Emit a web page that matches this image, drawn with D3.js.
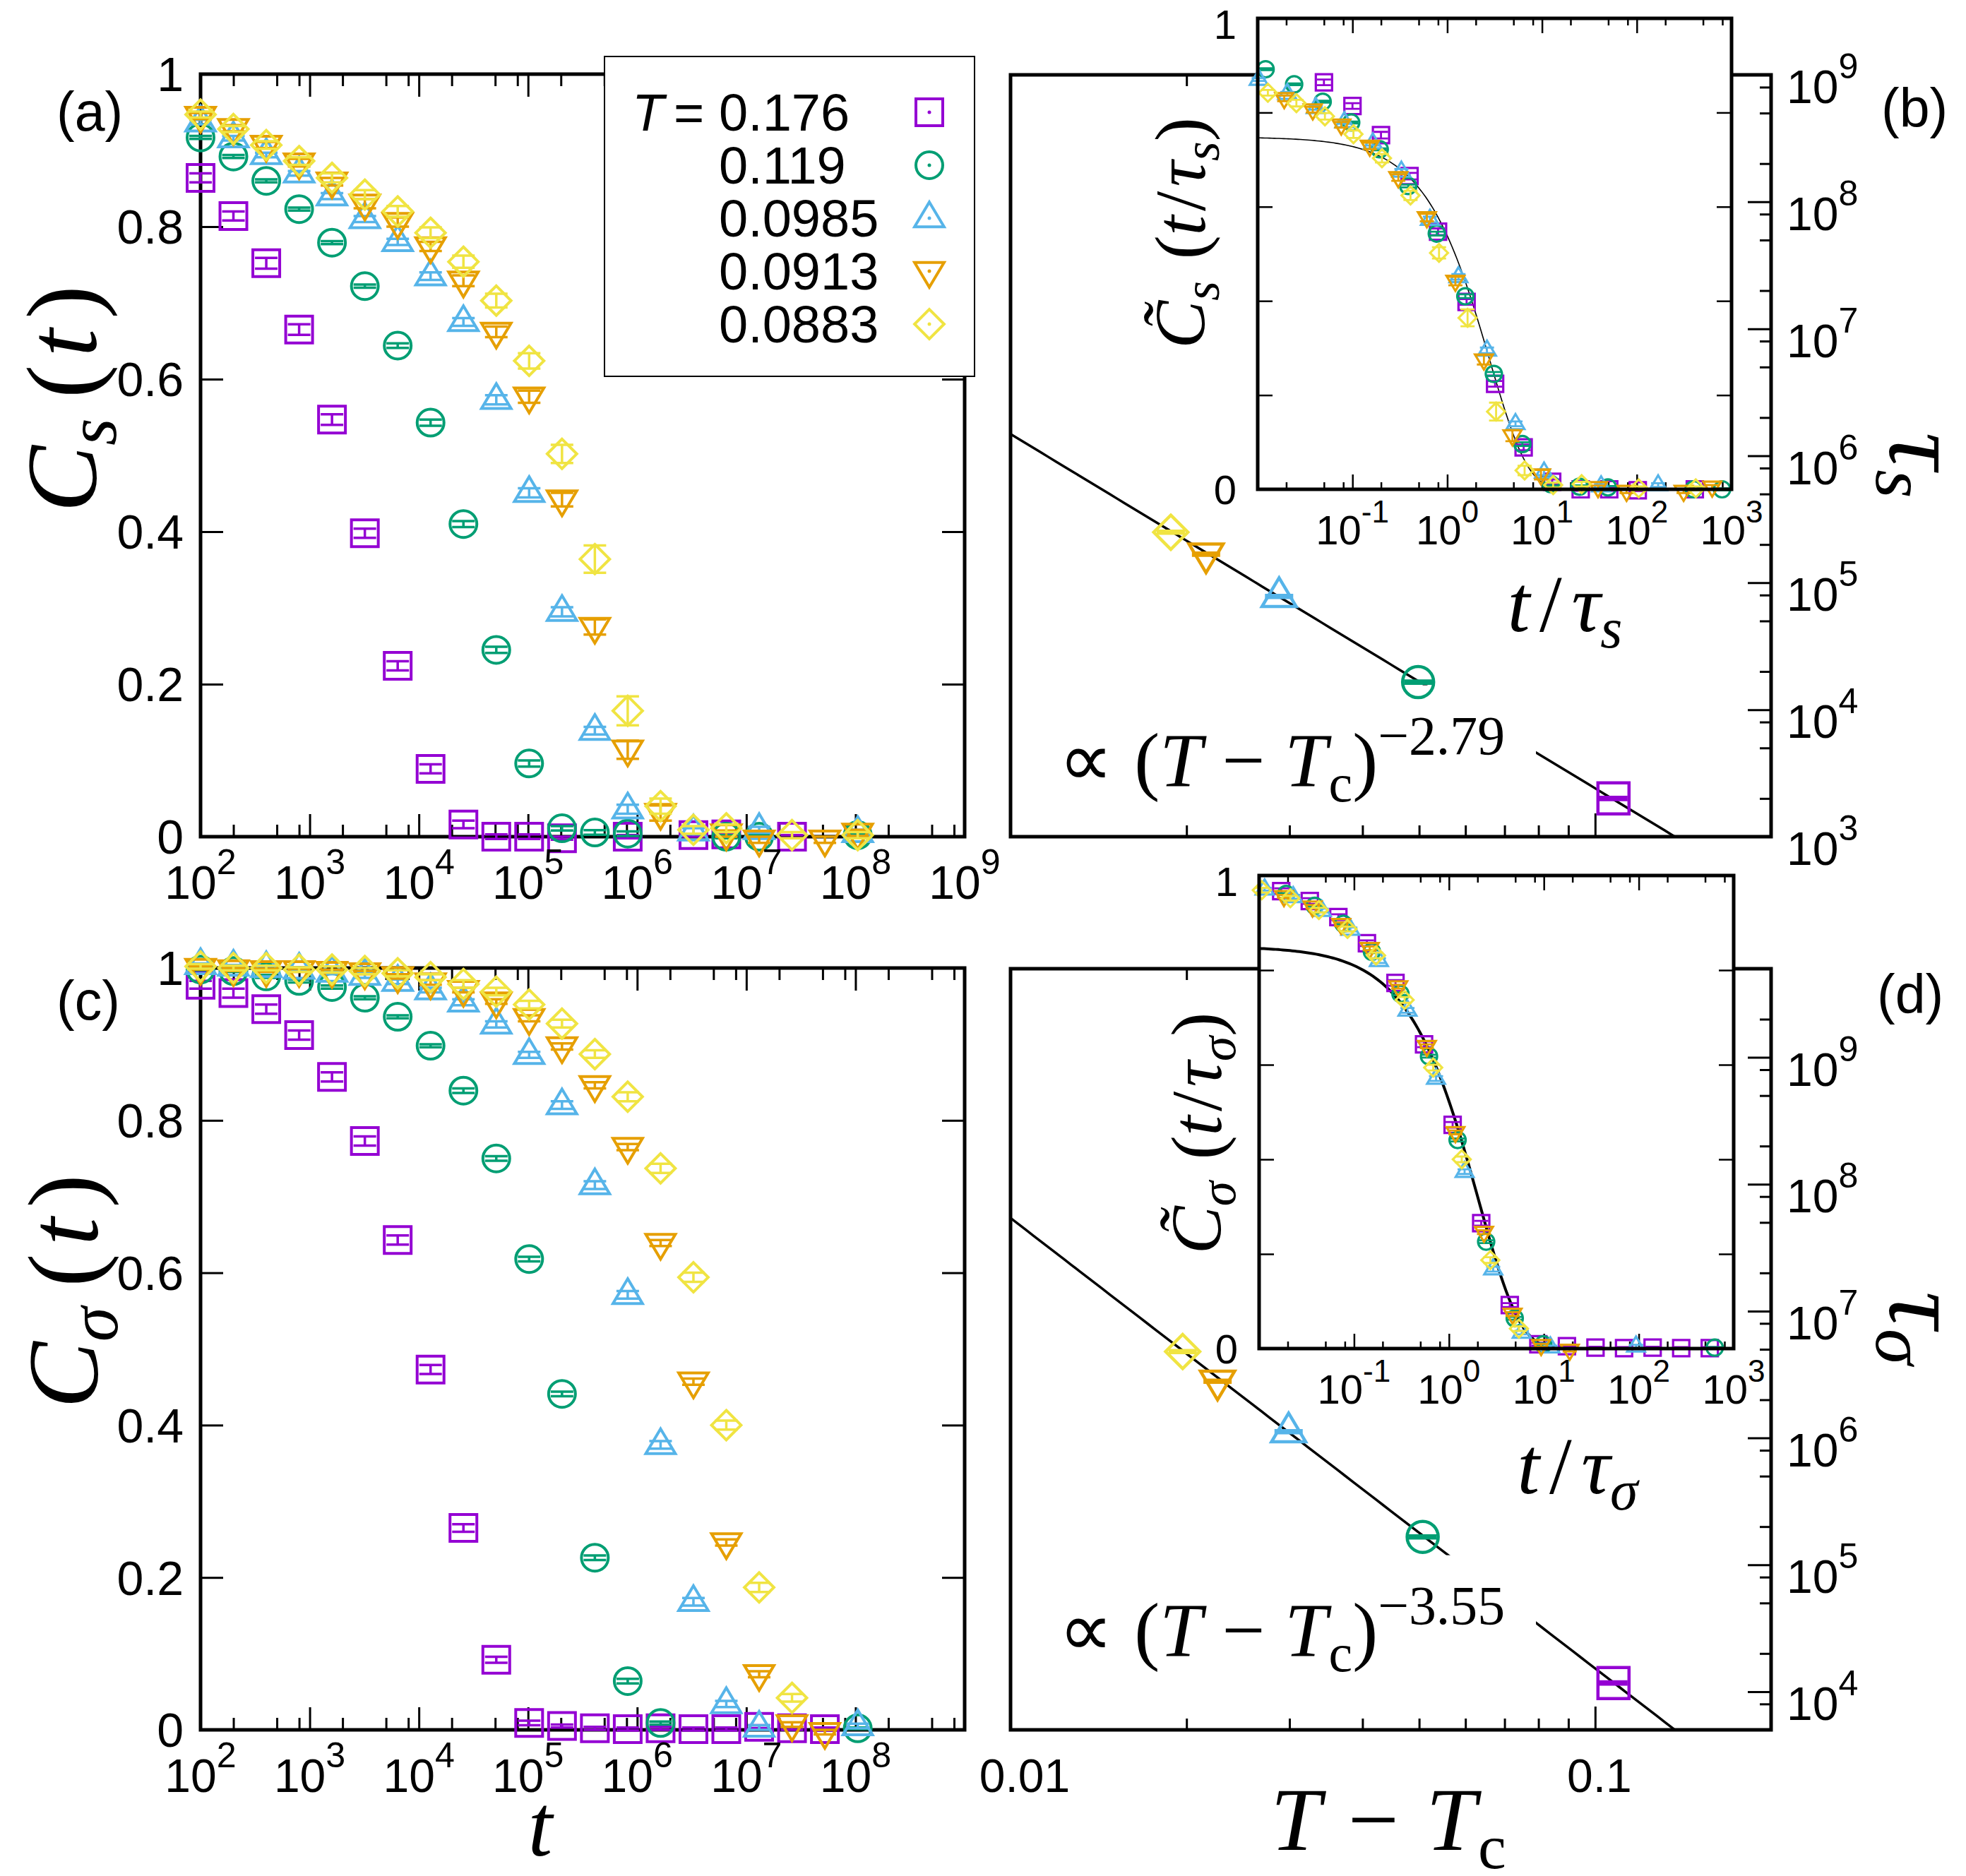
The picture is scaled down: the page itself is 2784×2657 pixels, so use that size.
<!DOCTYPE html>
<html>
<head>
<meta charset="utf-8">
<script src="https://cdn.jsdelivr.net/npm/d3@7"></script>
<style>
  body { margin: 0; background: #fff; }
  text { font-family: "Liberation Sans", Arial, sans-serif; fill: #000; }
  text.m { font-family: "Liberation Serif", "Times New Roman", serif; }
</style>
</head>
<body>
<svg id="fig" width="2784" height="2657"></svg>
<script>
// series order: T = 0.176, 0.119, 0.0985, 0.0913, 0.0883
const temps = ["0.176", "0.119", "0.0985", "0.0913", "0.0883"]
const colors = ["#9400d3", "#009e73", "#56b4e9", "#e69f00", "#f0e442"]
const shapes = ["square", "circle", "triangle", "tridown", "diamond"]

// sampling times of the correlation functions
const tGrid = [1e2, 2e2, 4e2, 8e2, 1.6e3, 3.2e3, 6.4e3, 1.28e4, 2.56e4, 5.12e4, 1.024e5,
  2.048e5, 4.096e5, 8.192e5, 1.6384e6, 3.2768e6, 6.5536e6, 1.31072e7, 2.62144e7, 5.24288e7, 1.048576e8]

// C_s(t), panel (a)   (null = no point)
const csPurple = [0.864, 0.814, 0.752, 0.665, 0.547, 0.398, 0.224, 0.089, 0.016, 0.000, 0.000, -0.002, null, 0.000, null, 0.002, 0.003, null, 0.000, null, null]
const csGreen  = [0.917, 0.892, 0.860, 0.823, 0.779, 0.722, 0.644, 0.543, 0.410, 0.245, 0.096, 0.011, 0.0055, 0.004, null, null, 0.000, 0.000, null, null, 0.002]
const csBlue   = [0.937, 0.916, 0.894, 0.870, 0.840, 0.810, 0.780, 0.735, 0.675, 0.573, 0.451, 0.295, 0.139, 0.036, null, 0.007, null, 0.009, null, null, 0.005]
const csOrange = [0.945, 0.929, 0.907, 0.884, 0.859, 0.830, 0.806, 0.774, 0.729, 0.662, 0.577, 0.442, 0.275, 0.114, 0.031, null, 0.004, -0.004, null, -0.004, 0.005]
const csYellow = [0.947, 0.928, 0.907, 0.886, 0.864, 0.842, 0.820, 0.792, 0.754, 0.703, 0.624, 0.502, 0.364, 0.165, 0.040, 0.009, 0.011, null, 0.002, null, 0.002]

const csErrPurple = [0.006, 0.006, 0.007, 0.007, 0.007, 0.006, 0.006, 0.006, 0.005, 0.003, 0.003, 0.002, null, 0.002, null, 0.002, 0.002, null, 0.002, null, null]
const csErrGreen  = [0.002, 0.002, 0.002, 0.002, 0.002, 0.002, 0.003, 0.004, 0.004, 0.004, 0.004, 0.003, 0.003, 0.003, null, null, 0.002, 0.002, null, null, 0.002]
const csErrBlue   = [0.003, 0.003, 0.003, 0.003, 0.004, 0.004, 0.004, 0.005, 0.005, 0.006, 0.006, 0.006, 0.005, 0.006, null, 0.004, null, 0.004, null, null, 0.004]
const csErrOrange = [0.004, 0.004, 0.004, 0.005, 0.005, 0.006, 0.006, 0.006, 0.007, 0.007, 0.008, 0.009, 0.010, 0.012, 0.010, null, 0.004, 0.004, null, 0.004, 0.004]
const csErrYellow = [0.004, 0.004, 0.005, 0.005, 0.006, 0.006, 0.007, 0.007, 0.008, 0.009, 0.010, 0.012, 0.018, 0.019, 0.010, 0.005, 0.005, null, 0.004, null, 0.004]

// C_sigma(t), panel (c)
const sigPurple = [0.978, 0.967, 0.946, 0.912, 0.857, 0.773, 0.643, 0.473, 0.265, 0.092, 0.009, 0.005, 0.002, 0.001, 0.002, 0.001, 0.001, 0.004, 0.002, 0.001, null]
const sigGreen  = [0.998, 0.996, 0.989, 0.983, 0.975, 0.961, 0.936, 0.898, 0.839, 0.750, 0.618, 0.441, 0.226, 0.064, 0.009, null, null, null, null, null, 0.002]
const sigBlue   = [1.004, 1.002, 1.000, 0.998, 0.994, 0.990, 0.982, 0.971, 0.955, 0.926, 0.886, 0.820, 0.715, 0.571, 0.374, 0.168, 0.034, 0.003, null, null, 0.005]
const sigOrange = [1.000, 0.998, 0.997, 0.997, 0.996, 0.994, 0.989, 0.981, 0.971, 0.956, 0.934, 0.897, 0.846, 0.765, 0.639, 0.457, 0.246, 0.073, 0.007, -0.003, null]
const sigYellow = [1.002, 1.000, 1.000, 0.998, 0.998, 0.996, 0.993, 0.988, 0.979, 0.969, 0.952, 0.927, 0.887, 0.831, 0.737, 0.594, 0.400, 0.187, 0.042, null, null]

const sigErrPurple = [0.005, 0.006, 0.006, 0.006, 0.006, 0.006, 0.006, 0.006, 0.005, 0.004, 0.003, 0.002, 0.002, 0.002, 0.002, 0.002, 0.002, 0.002, 0.002, 0.002, null]
const sigErrGreen  = [0.001, 0.001, 0.002, 0.002, 0.002, 0.002, 0.002, 0.002, 0.003, 0.003, 0.003, 0.003, 0.003, 0.003, 0.002, null, null, null, null, null, 0.001]
const sigErrBlue   = [0.002, 0.002, 0.002, 0.002, 0.002, 0.003, 0.003, 0.003, 0.004, 0.004, 0.004, 0.005, 0.005, 0.005, 0.005, 0.005, 0.004, 0.003, null, null, 0.003]
const sigErrOrange = [0.002, 0.002, 0.002, 0.002, 0.002, 0.002, 0.003, 0.003, 0.003, 0.003, 0.004, 0.004, 0.004, 0.004, 0.004, 0.004, 0.004, 0.004, 0.003, 0.003, null]
const sigErrYellow = [0.003, 0.003, 0.003, 0.003, 0.004, 0.004, 0.004, 0.004, 0.005, 0.005, 0.005, 0.005, 0.005, 0.006, 0.006, 0.006, 0.006, 0.006, 0.005, null, null]

// relaxation times, panels (b) and (d)
const dTs = [0.1075, 0.0498, 0.0288, 0.0216, 0.0188]
const tauS = [2.0e3, 1.65e4, 7.8e4, 1.68e5, 2.5e5]
const dTsig = [0.1075, 0.0507, 0.0299, 0.0226, 0.0197]
const tauSig = [1.17e4, 1.66e5, 1.12e6, 2.8e6, 4.8e6]
const tauRelErr = [0.02, 0.02, 0.02, 0.02, 0.02]

// fits
const fitS = { amp: 3.9, expo: -2.79, label: "\u22122.79" }
const fitSig = { amp: 4.3, expo: -3.55, label: "\u22123.55" }
const scaleFitS = { A: 0.748, x0: 2.8, beta: 1.08 }
const scaleFitSig = { A: 0.85, x0: 2.06, beta: 1.0 }

const csSeries = [csPurple, csGreen, csBlue, csOrange, csYellow]
const csErrs = [csErrPurple, csErrGreen, csErrBlue, csErrOrange, csErrYellow]
const sigSeries = [sigPurple, sigGreen, sigBlue, sigOrange, sigYellow]
const sigErrs = [sigErrPurple, sigErrGreen, sigErrBlue, sigErrOrange, sigErrYellow]

// ---------------- layout ----------------
const PA = { x0: 284, x1: 1366, y0: 105, y1: 1185 }
const PC = { x0: 284, x1: 1366, y0: 1371, y1: 2450 }
const PB = { x0: 1431, x1: 2508, y0: 106, y1: 1185 }
const PD = { x0: 1431, x1: 2508, y0: 1372, y1: 2450 }
const IB = { x0: 1781, x1: 2452, y0: 26, y1: 693 }
const ID = { x0: 1783, x1: 2455, y0: 1240, y1: 1910 }

const svg = d3.select("#fig")

// custom point types for d3.symbol (size = h*h)
const symTypes = {
  square: { draw(c, s) { const h = Math.sqrt(s); c.rect(-h, -h, 2 * h, 2 * h) } },
  circle: { draw(c, s) { const h = Math.sqrt(s); c.moveTo(h, 0); c.arc(0, 0, h, 0, 2 * Math.PI) } },
  triangle: { draw(c, s) { const h = Math.sqrt(s); c.moveTo(0, -1.2 * h); c.lineTo(1.1 * h, 0.65 * h); c.lineTo(-1.1 * h, 0.65 * h); c.closePath() } },
  tridown: { draw(c, s) { const h = Math.sqrt(s); c.moveTo(0, 1.2 * h); c.lineTo(1.1 * h, -0.65 * h); c.lineTo(-1.1 * h, -0.65 * h); c.closePath() } },
  diamond: { draw(c, s) { const h = Math.sqrt(s) * 1.1; c.moveTo(0, -h); c.lineTo(h, 0); c.lineTo(0, h); c.lineTo(-h, 0); c.closePath() } }
}
const sym = (shape, h) => d3.symbol().type(symTypes[shape]).size(h * h)()

const decades = (a, b) => d3.range(a, b + 1).map(e => Math.pow(10, e))
function logMinor(lo, hi, mult) {
  let out = []
  for (let e = Math.floor(Math.log10(lo)) - 1; e <= Math.ceil(Math.log10(hi)); e++) {
    mult.forEach(m => {
      let v = m * Math.pow(10, e)
      if (v >= lo * 0.999 && v <= hi * 1.001) out.push(v)
    })
  }
  return out
}

function putTicks(g, axis, tx, ty, vals, len, tw) {
  let a = g.append("g").attr("transform", "translate(" + tx + "," + ty + ")")
    .call(axis.tickValues(vals).tickSize(-len).tickFormat(""))
  a.select(".domain").remove()
  a.selectAll("line").attr("stroke", "#000").attr("stroke-width", tw)
}

function ticks(g, x, y, o) {
  let xr = x.range(), yr = y.range()
  let tw = o.tw || 3
  if (o.xMaj) {
    putTicks(g, d3.axisBottom(x), 0, yr[0], o.xMaj, o.maj, tw)
    putTicks(g, d3.axisTop(x), 0, yr[1], o.xMaj, o.maj, tw)
  }
  if (o.xMin) {
    putTicks(g, d3.axisBottom(x), 0, yr[0], o.xMin, o.min, tw)
    putTicks(g, d3.axisTop(x), 0, yr[1], o.xMin, o.min, tw)
  }
  if (o.yMaj) {
    if (o.left !== false) putTicks(g, d3.axisLeft(y), xr[0], 0, o.yMaj, o.maj, tw)
    putTicks(g, d3.axisRight(y), xr[1], 0, o.yMaj, o.maj, tw)
  }
  if (o.yMin) {
    if (o.left !== false) putTicks(g, d3.axisLeft(y), xr[0], 0, o.yMin, o.min, tw)
    putTicks(g, d3.axisRight(y), xr[1], 0, o.yMin, o.min, tw)
  }
}

function frame(g, P, sw) {
  g.append("rect").attr("x", P.x0).attr("y", P.y0)
    .attr("width", P.x1 - P.x0).attr("height", P.y1 - P.y0)
    .attr("fill", "none").attr("stroke", "#000").attr("stroke-width", sw || 5)
}

function powLabel(g, x, y, exp, fs, anchor) {
  let t = g.append("text").attr("x", x).attr("y", y).attr("font-size", fs).attr("text-anchor", anchor)
  t.append("tspan").text("10")
  t.append("tspan").attr("dy", -0.53 * fs).attr("font-size", fs * 0.76).text(exp)
  return t
}

// math text: segments {t, it, sub, sup, k, dx, drop}
function math(g, segs, fs) {
  let t = g.append("text").attr("class", "m").attr("font-size", fs)
  let shift = 0
  segs.forEach(s => {
    let target = s.sub ? (s.drop || 0.2) * fs : (s.sup ? -0.42 * fs : 0)
    let sp = t.append("tspan").attr("dy", target - shift).text(s.t)
    shift = target
    if (s.dx) sp.attr("dx", s.dx * fs)
    if (s.it) sp.attr("font-style", "italic")
    if (s.sub || s.sup) sp.attr("font-size", fs * (s.k || 0.7))
  })
  return t
}

// points with vertical error bars
function drawSeries(g, pts, i, x, y, st) {
  let s = g.append("g").attr("stroke", colors[i]).attr("fill", "none")
  s.selectAll("path.eb").data(pts).join("path").attr("class", "eb")
    .attr("stroke-width", st.ew)
    .attr("d", d => {
      let cx = x(d.x), ya = y(d.lo), yb = y(d.hi)
      return "M" + (cx - st.cap) + "," + ya + "H" + (cx + st.cap) +
        "M" + cx + "," + ya + "V" + yb +
        "M" + (cx - st.cap) + "," + yb + "H" + (cx + st.cap)
    })
  s.selectAll("path.sym").data(pts).join("path").attr("class", "sym")
    .attr("stroke-width", st.sw)
    .attr("transform", d => "translate(" + x(d.x) + "," + y(d.y) + ")")
    .attr("d", sym(shapes[i], st.h))
}

const yFmt = v => (v === 0 || v === 1) ? String(v) : v.toFixed(1)

// ---------------- panels (a) and (c) ----------------
function corrPanel(P, series, errs, labelExps) {
  let g = svg.append("g")
  let x = d3.scaleLog().domain([1e2, 1e9]).range([P.x0, P.x1])
  let y = d3.scaleLinear().domain([0, 1]).range([P.y1, P.y0])
  ticks(g, x, y, {
    xMaj: decades(2, 9), xMin: logMinor(1e2, 1e9, [2, 5, 8]),
    yMaj: [0, 0.2, 0.4, 0.6, 0.8, 1], maj: 32, min: 17
  })
  frame(g, P)
  series.forEach((vals, i) => {
    let pts = []
    tGrid.forEach((t, k) => {
      if (vals[k] === null) return
      pts.push({ x: t, y: vals[k], lo: vals[k] - errs[i][k], hi: vals[k] + errs[i][k] })
    })
    drawSeries(g, pts, i, x, y, { h: 19, sw: 4, ew: 3.5, cap: 16 })
  })
  ;[0, 0.2, 0.4, 0.6, 0.8, 1].forEach(v => {
    g.append("text").attr("x", P.x0 - 24).attr("y", y(v)).attr("dy", "0.36em")
      .attr("text-anchor", "end").attr("font-size", 68).text(yFmt(v))
  })
  labelExps.forEach(e => powLabel(g, x(Math.pow(10, e)), P.y1 + 88, String(e), 66, "middle"))
  return g
}

corrPanel(PA, csSeries, csErrs, [2, 3, 4, 5, 6, 7, 8, 9])
corrPanel(PC, sigSeries, sigErrs, [2, 3, 4, 5, 6, 7, 8])

// legend in (a)
const lg = svg.append("g")
lg.append("rect").attr("x", 856).attr("y", 80).attr("width", 524).attr("height", 453)
  .attr("fill", "#fff").attr("stroke", "#000").attr("stroke-width", 2)
lg.append("text").attr("x", 895).attr("y", 185).attr("font-size", 74).attr("font-style", "italic").text("T")
lg.append("text").attr("x", 954).attr("y", 185).attr("font-size", 74).text("=")
temps.forEach((T, i) => {
  let by = 185 + 75 * i
  lg.append("text").attr("x", 1018).attr("y", by).attr("font-size", 74).text(T)
  lg.append("path").attr("transform", "translate(1316," + (by - 26) + ")")
    .attr("d", sym(shapes[i], 19)).attr("fill", "none").attr("stroke", colors[i]).attr("stroke-width", 4)
  lg.append("circle").attr("cx", 1316).attr("cy", by - 26).attr("r", 2.5).attr("fill", colors[i])
})

// ---------------- panels (b) and (d) ----------------
function tauPanel(P, yDom, dT, tau, fit, yLabelExps, clipId, noteBase) {
  let g = svg.append("g")
  let x = d3.scaleLog().domain([0.01, 0.2]).range([P.x0, P.x1])
  let y = d3.scaleLog().domain(yDom).range([P.y1, P.y0])
  ticks(g, x, y, {
    xMaj: [0.01, 0.1], xMin: logMinor(0.01, 0.2, [2, 3, 4, 5, 6, 7, 8, 9]),
    yMaj: decades(Math.ceil(Math.log10(yDom[0])), Math.floor(Math.log10(yDom[1]))),
    yMin: logMinor(yDom[0], yDom[1], [2, 5, 8]), maj: 33, min: 16, left: false
  })
  svg.append("clipPath").attr("id", clipId).append("rect")
    .attr("x", P.x0).attr("y", P.y0).attr("width", P.x1 - P.x0).attr("height", P.y1 - P.y0)
  let xs = d3.range(0, 101).map(j => 0.01 * Math.pow(20, j / 100))
  g.append("path").attr("clip-path", "url(#" + clipId + ")")
    .attr("d", d3.line().x(v => x(v)).y(v => y(fit.amp * Math.pow(v, fit.expo)))(xs))
    .attr("fill", "none").attr("stroke", "#000").attr("stroke-width", 3.5)

  // annotation with white box
  let ng = g.append("g")
  let nt = math(ng, [{ t: "\u221d" }, { t: "(", dx: 0.28 }, { t: "T", it: 1 }, { t: "\u2212", dx: 0.26 },
    { t: "T", it: 1, dx: 0.26 }, { t: "c", sub: 1, dx: 0.02 }, { t: ")" }, { t: fit.label, sup: 1, k: 0.72 }], 108)
  nt.attr("x", P.x0 + 68).attr("y", noteBase)
  let bb = nt.node().getBBox()
  ng.insert("rect", "text").attr("x", bb.x - 8).attr("y", bb.y - 28)
    .attr("width", bb.width + 52).attr("height", bb.height + 40).attr("fill", "#fff")

  dT.forEach((d, i) => {
    let pts = [{ x: d, y: tau[i], lo: tau[i] * (1 - tauRelErr[i]), hi: tau[i] * (1 + tauRelErr[i]) }]
    drawSeries(g, pts, i, x, y, { h: 22, sw: 4.5, ew: 4.5, cap: 20 })
  })
  frame(g, P)
  yLabelExps.forEach(e => powLabel(g, P.x1 + 22, y(Math.pow(10, e)) + 40, String(e), 66, "start"))
  return { g, x, y }
}

tauPanel(PB, [1e3, 1e9], dTs, tauS, fitS, [3, 4, 5, 6, 7, 8, 9], "clipB", 1113)
const pd = tauPanel(PD, [5e3, 5e9], dTsig, tauSig, fitSig, [4, 5, 6, 7, 8, 9], "clipD", 2345)
;[0.01, 0.1].forEach(v => {
  pd.g.append("text").attr("x", pd.x(v) + (v < 0.05 ? 20 : 6)).attr("y", PD.y1 + 88).attr("text-anchor", "middle")
    .attr("font-size", 66).text(String(v))
})

// ---------------- insets ----------------
function inset(I, series, errs, tau, fit, lineW) {
  let g = svg.append("g")
  let x = d3.scaleLog().domain([1e-2, 1e3]).range([I.x0, I.x1])
  let y = d3.scaleLinear().domain([0, 1]).range([I.y1, I.y0])
  g.append("rect").attr("x", I.x0).attr("y", I.y0).attr("width", I.x1 - I.x0)
    .attr("height", I.y1 - I.y0).attr("fill", "#fff")
  ticks(g, x, y, {
    xMaj: decades(-2, 3), xMin: logMinor(1e-2, 1e3, [2, 5, 8]),
    yMaj: [0, 0.2, 0.4, 0.6, 0.8, 1], maj: 21, min: 10, tw: 2.5
  })
  let xs = d3.range(0, 201).map(j => Math.pow(10, -2 + 5 * j / 200))
  g.append("path")
    .attr("d", d3.line().x(v => x(v)).y(v => y(fit.A * Math.exp(-Math.pow(v / fit.x0, fit.beta))))(xs))
    .attr("fill", "none").attr("stroke", "#000").attr("stroke-width", lineW)
  series.forEach((vals, i) => {
    let pts = []
    tGrid.forEach((t, k) => {
      let u = t / tau[i]
      if (vals[k] === null || u < 0.01 || u > 1000) return
      pts.push({ x: u, y: vals[k], lo: vals[k] - errs[i][k], hi: vals[k] + errs[i][k] })
    })
    drawSeries(g, pts, i, x, y, { h: 11.5, sw: 3.2, ew: 2.8, cap: 10 })
  })
  frame(g, I, 5)
  g.append("text").attr("x", I.x0 - 30).attr("y", I.y0 + 8).attr("dy", "0.36em").attr("text-anchor", "end")
    .attr("font-size", 58).text("1")
  g.append("text").attr("x", I.x0 - 30).attr("y", I.y1).attr("dy", "0.36em").attr("text-anchor", "end")
    .attr("font-size", 58).text("0")
  ;[-1, 0, 1, 2, 3].forEach(e => powLabel(g, x(Math.pow(10, e)), I.y1 + 78, String(e), 58, "middle"))
  return g
}

inset(IB, csSeries, csErrs, tauS, scaleFitS, 1.6)
inset(ID, sigSeries, sigErrs, tauSig, scaleFitSig, 4)

// ---------------- axis titles ----------------
function rotLabel(tx, ty, ang, segs, fs) {
  let g = svg.append("g").attr("transform", "translate(" + tx + "," + ty + ") rotate(" + ang + ")")
  math(g, segs, fs).attr("text-anchor", "middle")
}
rotLabel(136, 565, -90, [{ t: "C", it: 1 }, { t: "s", it: 1, sub: 1 }, { t: "(", dx: 0.2 }, { t: "t", it: 1, dx: 0.08 }, { t: ")", dx: 0.1 }], 142)
rotLabel(138, 1829, -90, [{ t: "C", it: 1 }, { t: "\u03c3", it: 1, sub: 1 }, { t: "(", dx: 0.2 }, { t: "t", it: 1, dx: 0.08 }, { t: ")", dx: 0.1 }], 142)
rotLabel(2676, 659, 90, [{ t: "\u03c4", it: 1 }, { t: "s", it: 1, sub: 1, drop: 0.13 }], 148)
rotLabel(2676, 1881, 90, [{ t: "\u03c4", it: 1 }, { t: "\u03c3", it: 1, sub: 1, drop: 0.13 }], 148)
rotLabel(1706, 330, -90, [{ t: "C\u0303", it: 1 }, { t: "s", it: 1, sub: 1 }, { t: "(", dx: 0.3 }, { t: "t", it: 1 },
  { t: "/", dx: 0.06 }, { t: "\u03c4", it: 1, dx: 0.06 }, { t: "s", it: 1, sub: 1 }, { t: ")" }], 102)
rotLabel(1729, 1605, -90, [{ t: "C\u0303", it: 1 }, { t: "\u03c3", it: 1, sub: 1 }, { t: "(", dx: 0.3 }, { t: "t", it: 1 },
  { t: "/", dx: 0.06 }, { t: "\u03c4", it: 1, dx: 0.06 }, { t: "\u03c3", it: 1, sub: 1 }, { t: ")" }], 102)

math(svg, [{ t: "t", it: 1 }, { t: "/", dx: 0.12 }, { t: "\u03c4", it: 1, dx: 0.12 }, { t: "s", it: 1, sub: 1 }], 114)
  .attr("x", 2216).attr("y", 894).attr("text-anchor", "middle")
math(svg, [{ t: "t", it: 1 }, { t: "/", dx: 0.12 }, { t: "\u03c4", it: 1, dx: 0.12 }, { t: "\u03c3", it: 1, sub: 1 }], 114)
  .attr("x", 2234).attr("y", 2115).attr("text-anchor", "middle")
math(svg, [{ t: "t", it: 1 }], 124).attr("x", 765).attr("y", 2628).attr("text-anchor", "middle")
math(svg, [{ t: "T", it: 1 }, { t: "\u2212", dx: 0.3 }, { t: "T", it: 1, dx: 0.3 }, { t: "c", sub: 1, dx: 0.02 }], 128)
  .attr("x", 1966).attr("y", 2620).attr("text-anchor", "middle")

// panel letters
;[["(a)", 80, 185], ["(b)", 2664, 180], ["(c)", 80, 1444], ["(d)", 2658, 1435]].forEach(p => {
  svg.append("text").attr("x", p[1]).attr("y", p[2]).attr("font-size", 77).text(p[0])
})
</script>
</body>
</html>
